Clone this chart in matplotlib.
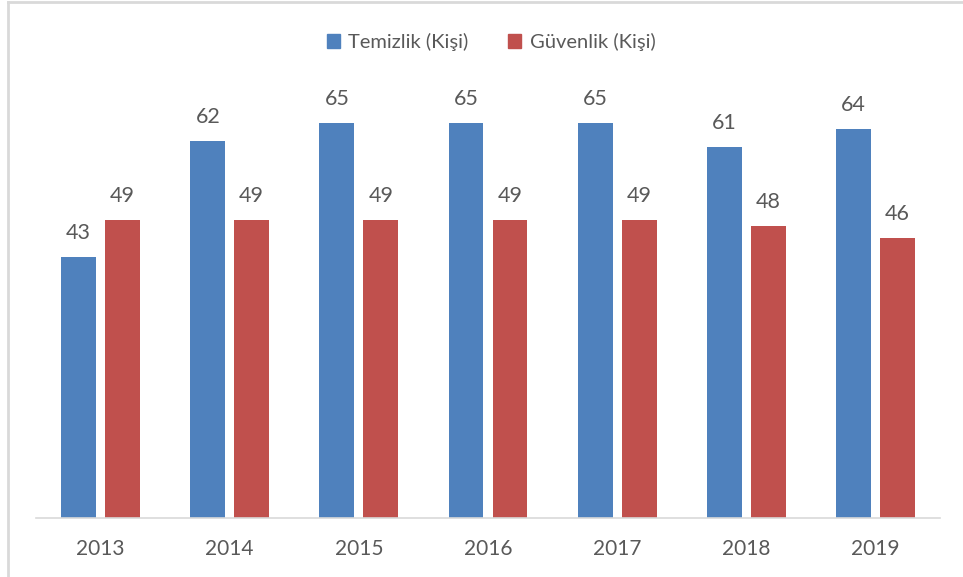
import numpy as np
import matplotlib.pyplot as plt
from matplotlib.patches import Patch
from matplotlib.lines import Line2D

years = ['2013', '2014', '2015', '2016', '2017', '2018', '2019']
temizlik = [43, 62, 65, 65, 65, 61, 64]
guvenlik = [49, 49, 49, 49, 49, 48, 46]

mavi = '#4F81BD'
kirmizi = '#C0504D'
yazi = '#595959'

plt.rcParams['font.family'] = ['Lato', 'DejaVu Sans']

fig = plt.figure(figsize=(9.63, 5.77), dpi=100)
ax = fig.add_axes([36/963, 59/577, 904/963, (518-62)/577])

x = np.arange(len(years))
w = 0.27
b1 = ax.bar(x - 0.17, temizlik, w, color=mavi, label='Temizlik (Kişi)')
b2 = ax.bar(x + 0.17, guvenlik, w, color=kirmizi, label='Güvenlik (Kişi)')

# deger etiketleri
for bars in (b1, b2):
    for b in bars:
        ax.annotate(str(int(b.get_height())), (b.get_x() + b.get_width()/2, b.get_height()),
                    xytext=(0, 10), textcoords='offset points', ha='center', va='bottom',
                    fontsize=15.5, color=yazi)

ax.set_xlim(-0.5, len(years) - 0.5)
ax.set_ylim(0, 75)
ax.set_xticks(x)
ax.set_xticklabels(years, fontsize=15, color=yazi)
ax.tick_params(axis='x', length=0, pad=15)
ax.set_yticks([])
for s in ['top', 'right', 'left']:
    ax.spines[s].set_visible(False)
ax.spines['bottom'].set_color('#D9D9D9')
ax.spines['bottom'].set_linewidth(1.2)

handles = [Patch(color=mavi, label='Temizlik (Kişi)'), Patch(color=kirmizi, label='Güvenlik (Kişi)')]
leg = fig.legend(handles=handles, loc='center', bbox_to_anchor=(491/963, 1 - 42/577), ncol=2,
                 frameon=False, fontsize=14.5, handlelength=0.65, handleheight=0.65,
                 handletextpad=0.4, columnspacing=2.0)
for t in leg.get_texts():
    t.set_color(yazi)

# grafik cercevesi
fig.add_artist(Line2D([7.5/963, 7.5/963], [0, 1 - 1.5/577], transform=fig.transFigure, color='#D9D9D9', lw=2))
fig.add_artist(Line2D([7.5/963, 1], [1 - 1.5/577, 1 - 1.5/577], transform=fig.transFigure, color='#D9D9D9', lw=2))

fig.savefig('out.png', dpi=100)
